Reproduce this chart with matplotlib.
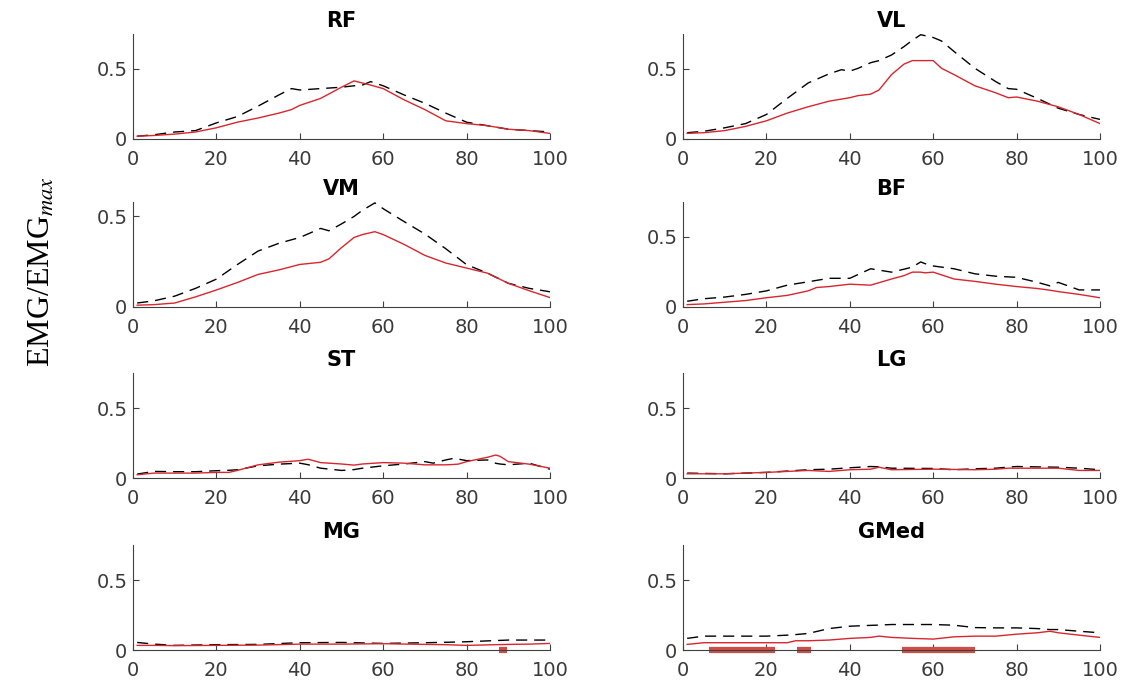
import matplotlib
matplotlib.use('Agg')
import matplotlib.pyplot as plt

plt.rcParams['mathtext.fontset'] = 'stix'

# EMG envelopes (normalised), red = solid line, black = dashed line
rf_x = [1, 5, 10, 15, 20, 25, 30, 35, 38, 40, 45, 50, 53, 55, 57, 60, 65, 70, 75, 80, 85, 90, 95, 100]
rf_red = [0.02, 0.025, 0.035, 0.05, 0.08, 0.12, 0.15, 0.185, 0.21, 0.24, 0.29, 0.37, 0.415, 0.40, 0.385,
          0.36, 0.28, 0.21, 0.13, 0.11, 0.095, 0.07, 0.06, 0.04]
rf_black = [0.02, 0.03, 0.05, 0.06, 0.115, 0.16, 0.235, 0.315, 0.36, 0.35, 0.36, 0.37, 0.38, 0.385, 0.41,
            0.38, 0.315, 0.255, 0.185, 0.12, 0.095, 0.07, 0.06, 0.05]

vl_x = [1, 5, 10, 15, 20, 25, 30, 35, 38, 40, 42, 45, 47, 50, 53, 55, 57, 60, 62, 65, 70, 75, 78, 80, 85, 90, 95, 100]
vl_red = [0.04, 0.045, 0.06, 0.09, 0.13, 0.185, 0.23, 0.27, 0.285, 0.295, 0.31, 0.32, 0.35, 0.46, 0.535, 0.56,
          0.56, 0.56, 0.505, 0.46, 0.38, 0.33, 0.295, 0.30, 0.27, 0.23, 0.175, 0.11]
vl_black = [0.045, 0.055, 0.08, 0.11, 0.175, 0.29, 0.40, 0.465, 0.495, 0.485, 0.505, 0.545, 0.56, 0.60, 0.66,
            0.705, 0.745, 0.725, 0.70, 0.625, 0.505, 0.41, 0.36, 0.355, 0.29, 0.22, 0.175, 0.14]

vm_x = [1, 5, 10, 15, 20, 25, 30, 35, 40, 45, 47, 50, 53, 55, 58, 60, 65, 70, 75, 80, 85, 90, 95, 100]
vm_red = [0.01, 0.013, 0.022, 0.056, 0.094, 0.135, 0.18, 0.205, 0.235, 0.247, 0.266, 0.328, 0.384, 0.40,
          0.416, 0.40, 0.346, 0.285, 0.243, 0.215, 0.187, 0.131, 0.09, 0.052]
vm_black = [0.022, 0.034, 0.06, 0.103, 0.154, 0.234, 0.309, 0.352, 0.384, 0.434, 0.421, 0.459, 0.50, 0.534,
            0.575, 0.543, 0.472, 0.403, 0.322, 0.234, 0.187, 0.131, 0.103, 0.084]

bf_x = [1, 5, 10, 15, 20, 25, 30, 32, 35, 40, 45, 50, 53, 55, 57, 58, 60, 65, 70, 75, 80, 85, 88, 90, 95, 100]
bf_red = [0.017, 0.022, 0.034, 0.046, 0.066, 0.083, 0.115, 0.139, 0.146, 0.163, 0.156, 0.20, 0.224, 0.249,
          0.249, 0.244, 0.249, 0.20, 0.183, 0.163, 0.146, 0.132, 0.12, 0.11, 0.09, 0.066]
bf_black = [0.041, 0.059, 0.071, 0.09, 0.115, 0.156, 0.18, 0.19, 0.205, 0.205, 0.273, 0.249, 0.27, 0.285,
            0.322, 0.31, 0.293, 0.273, 0.237, 0.22, 0.212, 0.176, 0.151, 0.176, 0.122, 0.122]

st_x = [1, 5, 10, 15, 20, 23, 25, 30, 35, 40, 42, 45, 50, 53, 55, 60, 65, 70, 72, 75, 77, 78, 80, 85, 87, 88, 90, 95, 100]
st_red = [0.023, 0.035, 0.035, 0.035, 0.04, 0.04, 0.054, 0.094, 0.113, 0.124, 0.134, 0.11, 0.10, 0.092, 0.10,
          0.11, 0.106, 0.094, 0.094, 0.094, 0.097, 0.099, 0.117, 0.148, 0.164, 0.155, 0.117, 0.099, 0.07]
st_black = [0.028, 0.047, 0.045, 0.045, 0.052, 0.055, 0.059, 0.087, 0.099, 0.106, 0.095, 0.07, 0.054, 0.06,
            0.07, 0.087, 0.10, 0.117, 0.106, 0.129, 0.141, 0.135, 0.124, 0.129, 0.105, 0.10, 0.094, 0.106, 0.063]

lg_x = [1, 10, 20, 30, 35, 40, 45, 47, 50, 60, 65, 70, 75, 78, 80, 90, 95, 100]
lg_red = [0.03, 0.03, 0.04, 0.054, 0.047, 0.059, 0.063, 0.077, 0.059, 0.063, 0.061, 0.059, 0.063, 0.07,
          0.07, 0.07, 0.054, 0.054]
lg_black = [0.035, 0.03, 0.04, 0.059, 0.063, 0.073, 0.082, 0.08, 0.07, 0.068, 0.059, 0.066, 0.07, 0.078,
            0.082, 0.077, 0.07, 0.059]

mg_x = [1, 5, 10, 20, 30, 40, 50, 60, 70, 75, 80, 90, 95, 100]
mg_red = [0.033, 0.033, 0.031, 0.033, 0.035, 0.042, 0.042, 0.045, 0.04, 0.038, 0.033, 0.04, 0.042, 0.047]
mg_black = [0.054, 0.042, 0.033, 0.038, 0.04, 0.052, 0.054, 0.047, 0.052, 0.055, 0.059, 0.071, 0.071, 0.071]

gmed_x = [1, 5, 10, 20, 25, 27, 30, 35, 40, 45, 47, 50, 55, 60, 65, 70, 75, 80, 85, 88, 90, 95, 100]
gmed_red = [0.04, 0.052, 0.052, 0.052, 0.052, 0.066, 0.066, 0.071, 0.083, 0.09, 0.099, 0.09, 0.083, 0.078,
            0.094, 0.099, 0.099, 0.113, 0.123, 0.134, 0.123, 0.106, 0.09]
gmed_black = [0.083, 0.099, 0.099, 0.099, 0.106, 0.11, 0.118, 0.153, 0.17, 0.176, 0.178, 0.182, 0.182, 0.182,
              0.177, 0.16, 0.158, 0.158, 0.153, 0.146, 0.146, 0.134, 0.123]

# significant regions (start, end) in % of cycle
mg_sig = [(87.8, 89.8)]
gmed_sig = [(6.3, 22.0), (27.3, 30.6), (52.4, 70.0)]

muscles = ['RF', 'VL', 'VM', 'BF', 'ST', 'LG', 'MG', 'GMed']
xs = [rf_x, vl_x, vm_x, bf_x, st_x, lg_x, mg_x, gmed_x]
reds = [rf_red, vl_red, vm_red, bf_red, st_red, lg_red, mg_red, gmed_red]
blacks = [rf_black, vl_black, vm_black, bf_black, st_black, lg_black, mg_black, gmed_black]
sigs = [[], [], [], [], [], [], mg_sig, gmed_sig]
ytops = [0.75, 0.75, 0.58, 0.75, 0.75, 0.75, 0.75, 0.75]

RED = '#d8262e'
BAR = '#cc4f48'
GREY = '#404040'

W, H = 1124, 681
fig = plt.figure(figsize=(W / 100, H / 100), dpi=100)

lefts = [133, 683]
bottoms = [139, 307, 478, 650]
ax_w, ax_h = 417, 105

for i, name in enumerate(muscles):
    row, col = divmod(i, 2)
    ax = fig.add_axes([lefts[col] / W, 1 - bottoms[row] / H, ax_w / W, ax_h / H])
    ax.plot(xs[i], blacks[i], color='black', lw=1.0, dashes=(8, 5))
    ax.plot(xs[i], reds[i], color=RED, lw=1.0)
    for a, b in sigs[i]:
        ax.plot([a, b], [0, 0], color=BAR, lw=4.5, solid_capstyle='butt', clip_on=False)
    ax.set_xlim(0, 100)
    ax.set_ylim(0, ytops[i])
    ax.set_xticks([0, 20, 40, 60, 80, 100])
    ax.set_yticks([0, 0.5])
    ax.set_yticklabels(['0', '0.5'])
    ax.spines['top'].set_visible(False)
    ax.spines['right'].set_visible(False)
    for s in ('left', 'bottom'):
        ax.spines[s].set_color(GREY)
        ax.spines[s].set_linewidth(0.8)
    ax.tick_params(direction='in', length=4, width=0.8, color=GREY,
                   labelsize=14, labelcolor='#3a3a3a')
    ax.tick_params(axis='x', pad=8)
    ax.tick_params(axis='y', pad=4)
    ax.set_title(name, fontsize=15, fontweight='bold', family='DejaVu Sans', pad=5)

fig.text(42 / W, 1 - 272 / H, r'EMG/EMG$_{max}$', rotation=90, ha='center', va='center',
         fontsize=23, family='Liberation Serif')

fig.savefig('out.png', dpi=100)
